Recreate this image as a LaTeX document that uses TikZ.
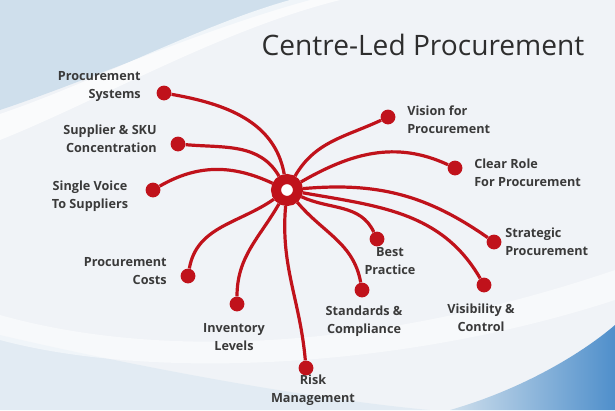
\documentclass[tikz,border=0pt]{standalone}
\usepackage{fontspec}
\setmainfont{Open Sans}
\usepackage{tikz}
\usetikzlibrary{positioning}
\definecolor{hubred}{HTML}{C0121B}
\definecolor{labelgray}{HTML}{3A3A3A}
\definecolor{titlegray}{HTML}{2E2E2E}
\definecolor{bgbase}{HTML}{F0F3F7}
\definecolor{skyblue}{HTML}{CFDFEC}
\definecolor{waveblue}{HTML}{4F8FCB}

\begin{document}
\begin{tikzpicture}[
  x=0.025cm, y=0.025cm,
  every node/.style={font=\small},
  hub/.style={circle, draw=hubred, line width=0.25cm, fill=white,
              minimum size=0.55cm, inner sep=0pt},
  endpoint/.style={circle, fill=hubred, minimum size=0.37cm, inner sep=0pt},
  spoke/.style={line width=0.08cm, hubred},
  tag/.style={font=\bfseries\fontsize{9}{12.8}\selectfont, text=labelgray, inner sep=0pt},
  heading/.style={font=\fontsize{20}{24}\selectfont, text=titlegray, inner sep=0pt}
]

% fondo
\fill[bgbase] (0,0) rectangle (615,410);
\fill[skyblue] (0,410) -- (310,410) .. controls (200,380) and (90,330) .. (0,300) -- cycle;
\fill[white, opacity=.7] (0,296) .. controls (100,330) and (200,385) .. (290,410)
  -- (340,410) .. controls (220,380) and (100,310) .. (0,270) -- cycle;
\fill[skyblue!70, opacity=.7] (0,0) -- (0,75) .. controls (150,40) and (320,10) .. (430,0) -- cycle;
\fill[white, opacity=.5] (0,95) .. controls (160,50) and (380,60) .. (615,140)
  -- (615,110) .. controls (400,40) and (150,30) .. (0,70) -- cycle;
\shade[left color=skyblue, right color=waveblue]
  (450,0) .. controls (520,20) and (580,55) .. (615,85) -- (615,0) -- cycle;

\useasboundingbox (0,0) rectangle (615,410);

\node[heading] (title) at (423,365) {Centre-Led Procurement};

\node[hub] (hub) at (287,220) {};

% extremos
\node[endpoint] (systems) at (164,317) {};
\node[endpoint] (sku) at (178,266) {};
\node[endpoint] (voice) at (153,220) {};
\node[endpoint] (costs) at (188,134) {};
\node[endpoint] (inventory) at (237,106) {};
\node[endpoint] (risk) at (306,42) {};
\node[endpoint] (standards) at (362,120) {};
\node[endpoint] (best) at (377,171) {};
\node[endpoint] (visibility) at (484,125) {};
\node[endpoint] (strategic) at (494,168) {};
\node[endpoint] (role) at (455,242) {};
\node[endpoint] (vision) at (388,293) {};

% rayos desde el centro
\draw[spoke] (hub) to[out=100, in=-10] (systems);
\draw[spoke] (hub) to[out=120, in=-5] (sku);
\draw[spoke] (hub) to[out=155, in=30] (voice);
\draw[spoke] (hub) to[out=215, in=80] (costs);
\draw[spoke] (hub) to[out=240, in=90] (inventory);
\draw[spoke] (hub) to[out=265, in=95] (risk);
\draw[spoke] (hub) to[out=-50, in=100] (standards);
\draw[spoke] (hub) to[out=-25, in=115] (best);
\draw[spoke] (hub) to[out=-10, in=120] (visibility);
\draw[spoke] (hub) to[out=5, in=145] (strategic);
\draw[spoke] (hub) to[out=30, in=155] (role);
\draw[spoke] (hub) to[out=60, in=205] (vision);

% etiquetas
\node[tag, align=right, anchor=east] (systemstag) at (141,323) {Procurement\\Systems};
\node[tag, align=right, anchor=east] (skutag) at (157,271) {Supplier \& SKU\\Concentration};
\node[tag, align=center] (voicetag) at (90,214) {Single Voice\\To Suppliers};
\node[tag, align=right, anchor=east] (coststag) at (167,139) {Procurement\\Costs};
\node[tag, align=center] (inventorytag) at (234,73) {Inventory\\Levels};
\node[tag, align=center] (risktag) at (313,20) {Risk\\Management};
\node[tag, align=center] (standardstag) at (364,89) {Standards \&\\Compliance};
\node[tag, align=center] (besttag) at (390,149) {Best\\Practice};
\node[tag, align=center] (visibilitytag) at (481,92) {Visibility \&\\Control};
\node[tag, align=left, anchor=west] (strategictag) at (505,168) {Strategic\\Procurement};
\node[tag, align=left, anchor=west] (roletag) at (474,237) {Clear Role\\For Procurement};
\node[tag, align=left, anchor=west] (visiontag) at (407,290) {Vision for\\Procurement};

\end{tikzpicture}
\end{document}
